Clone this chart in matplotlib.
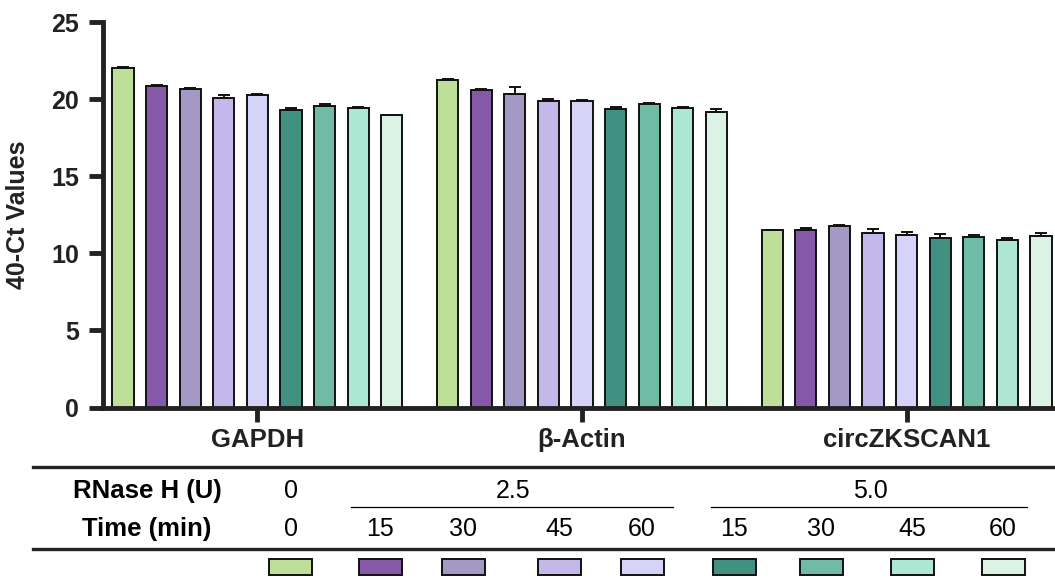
import numpy as np
import matplotlib
matplotlib.use('Agg')
import matplotlib.pyplot as plt
from matplotlib.lines import Line2D
from matplotlib.patches import Rectangle

plt.rcParams['font.family'] = ['Liberation Sans', 'DejaVu Sans']

# data
genes = ['GAPDH', 'β-Actin', 'circZKSCAN1']
gapdh = [22.02, 20.88, 20.64, 20.04, 20.28, 19.30, 19.54, 19.41, 18.94]
gapdh_err = [0.08, 0.06, 0.05, 0.2, 0.07, 0.1, 0.15, 0.05, 0.0]
actin = [21.22, 20.58, 20.36, 19.86, 19.88, 19.35, 19.65, 19.45, 19.17]
actin_err = [0.06, 0.1, 0.43, 0.15, 0.05, 0.15, 0.08, 0.03, 0.22]
circ = [11.50, 11.50, 11.76, 11.32, 11.17, 10.96, 11.04, 10.85, 11.11]
circ_err = [0.03, 0.17, 0.1, 0.26, 0.2, 0.3, 0.15, 0.15, 0.21]

rnase_groups = ['0', '2.5', '5.0']
times = ['0', '15', '30', '45', '60', '15', '30', '45', '60']
colors = ['#BEDF98', '#8559A8', '#A499C4', '#C4B7EA', '#D5D4F8',
          '#419183', '#6FBBA6', '#ADE7D3', '#DAF3E4']

W, H = 1055, 578
fig = plt.figure(figsize=(W / 100, H / 100), dpi=100)
ax = fig.add_axes([102.5 / W, 1 - 407.5 / H, 1 - 102.5 / W, (407.5 - 22) / H])

dark = '#222222'
pitch = 0.1035
width = 0.065
values = np.array([gapdh, actin, circ])
errs = np.array([gapdh_err, actin_err, circ_err])

for i in range(9):
    x = np.arange(3) + (i - 4) * pitch
    ax.bar(x, values[:, i], width=width, color=colors[i], edgecolor='#111111',
           linewidth=1.4, zorder=2)
    ax.errorbar(x, values[:, i], yerr=[np.zeros(3), errs[:, i]], fmt='none',
                ecolor='#111111', elinewidth=1.4, capsize=4.5, capthick=1.4, zorder=3)

ax.set_xlim(-0.477, 2.457)
ax.set_ylim(0, 25)
ax.set_yticks([0, 5, 10, 15, 20, 25])
ax.set_xticks([0, 1, 2])
ax.set_xticklabels(genes, fontsize=18.5, fontweight='bold', color=dark)
for lab in ax.get_yticklabels():
    lab.set_fontweight('bold')
ax.tick_params(axis='y', labelsize=18, length=10, width=3.5, color=dark,
               labelcolor=dark, pad=7)
ax.tick_params(axis='x', length=10, width=3.5, color=dark, pad=5)
ax.set_ylabel('40-Ct Values', fontsize=18, fontweight='bold', color=dark, labelpad=15)
for s in ['top', 'right']:
    ax.spines[s].set_visible(False)
for s in ['left', 'bottom']:
    ax.spines[s].set_linewidth(3.5)
    ax.spines[s].set_color(dark)


def fx(px):
    return px / W


def fy(py):
    return 1 - py / H


# table under the chart
for yy in [467.3, 549.3]:
    fig.add_artist(Line2D([fx(33), fx(1055)], [fy(yy), fy(yy)], color=dark, lw=2.4))

row1, row2 = 491, 529
fig.text(fx(147), fy(row1), 'RNase H (U)', fontsize=18.5, fontweight='bold',
         ha='center', va='center', color='black')
fig.text(fx(147), fy(row2), 'Time (min)', fontsize=18.5, fontweight='bold',
         ha='center', va='center', color='black')

cols = [291, 380, 463, 559, 642, 734, 821, 912, 1003]
fig.text(fx(cols[0]), fy(row1), rnase_groups[0], fontsize=18, ha='center', va='center')
fig.text(fx(513), fy(row1), rnase_groups[1], fontsize=18, ha='center', va='center')
fig.text(fx(870), fy(row1), rnase_groups[2], fontsize=18, ha='center', va='center')
fig.add_artist(Line2D([fx(351), fx(673)], [fy(507), fy(507)], color='black', lw=0.9))
fig.add_artist(Line2D([fx(711), fx(1027)], [fy(507), fy(507)], color='black', lw=0.9))

for c, t, col in zip(cols, times, colors):
    fig.text(fx(c), fy(row2), t, fontsize=18, ha='center', va='center')
    fig.add_artist(Rectangle((fx(c - 21.5), fy(575)), 43 / W, 16 / H,
                             facecolor=col, edgecolor='#111111', lw=1.4,
                             transform=fig.transFigure))

fig.savefig('out.png', dpi=100)
